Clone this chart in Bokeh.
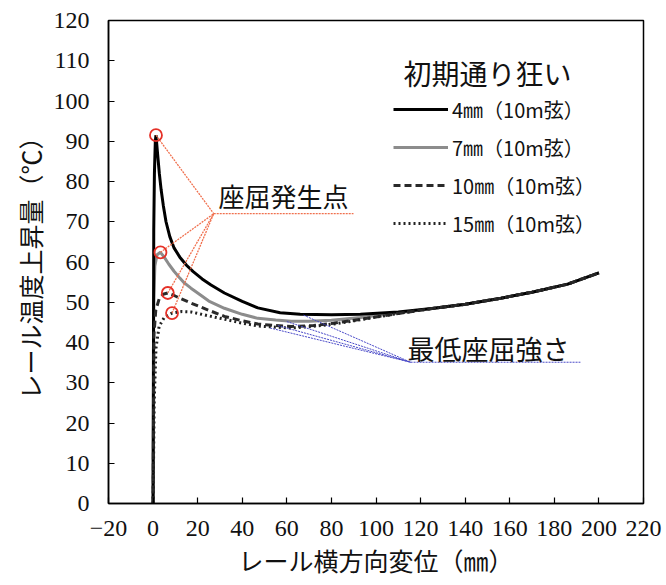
from bokeh.plotting import figure
from bokeh.models import Range1d, FixedTicker, Legend, LegendItem
from bokeh.core.properties import value
from bokeh.embed import file_html
from bokeh.resources import INLINE

# ---- data ----
x_ticks = [-20, 0, 20, 40, 60, 80, 100, 120, 140, 160, 180, 200, 220]
y_ticks = [0, 10, 20, 30, 40, 50, 60, 70, 80, 90, 100, 110, 120]

tail_x = [126, 140, 156, 170, 186, 200]
tail_y = [48.5, 49.5, 51.0, 52.5, 54.5, 57.3]

x_4mm = [0, 0.3, 0.6, 1.0, 1.3, 2.0, 2.8, 3.6, 4.6, 5.8, 7.5, 9.4, 12, 15, 18, 22, 26, 32, 40, 47, 57, 66, 80, 93, 110] + tail_x
y_4mm = [0, 68, 82, 90, 91.5, 87, 82, 78, 74, 70, 66.3, 63.5, 61.2, 59.2, 57.6, 55.8, 54.3, 52.3, 50.2, 48.6, 47.4, 47.0, 46.9, 47.0, 47.6] + tail_y

x_7mm = [0, 0.3, 0.8, 1.8, 3.3, 5, 7, 9.4, 12, 14, 17, 20, 25, 32, 40, 47, 55, 62, 70, 80, 93, 110] + tail_x
y_7mm = [0, 50, 59, 61.8, 62.4, 61.2, 59.5, 57.7, 56.0, 54.8, 53.5, 52.3, 50.3, 48.5, 47.0, 46.0, 45.6, 45.3, 45.3, 45.5, 46.2, 47.3] + tail_y

x_10mm = [0, 0.4, 1.2, 2.7, 4.5, 6.6, 9, 12, 17, 25, 32, 40, 47, 55, 62, 72, 81, 96, 110] + tail_x
y_10mm = [0, 42, 48, 50.8, 52.0, 52.3, 51.8, 51.0, 49.8, 48.0, 46.5, 45.4, 44.6, 44.2, 44.0, 44.2, 44.8, 46.0, 47.2] + tail_y

x_15mm = [0, 0.5, 1.3, 2.7, 5, 8.5, 13, 17, 25, 32, 40, 47, 55, 62, 72, 85, 100, 112] + tail_x
y_15mm = [0, 25, 38.6, 44.0, 46.2, 47.3, 47.7, 47.6, 46.6, 45.8, 44.8, 44.1, 43.8, 43.6, 44.0, 44.9, 46.3, 47.4] + tail_y

series_labels = ["4㎜（10m弦）", "7㎜（10m弦）", "10㎜（10m弦）", "15㎜（10m弦）"]

# buckling points (circled) and annotation anchor
buckle_x = [1.3, 3.3, 6.6, 8.5]
buckle_y = [91.5, 62.4, 52.3, 47.3]
buckle_hub = (27.2, 72.0)
buckle_line_end = 89.9
buckle_text = "座屈発生点"
buckle_text_pos = (29.3, 76.5)

# minimum buckling strength points and annotation anchor
min_x = [67.5, 60, 56, 52.5]
min_y = [46.8, 45.2, 44.2, 43.6]
min_hub = (115.5, 35.1)
min_line_end = 191.7
min_text = "最低座屈強さ"
min_text_pos = (114.1, 38.6)

legend_title = "初期通り狂い"
legend_title_pos = (112.3, 107.0)
x_label = "レール横方向変位（㎜）"
y_label = "レール温度上昇量（℃）"

JP = "Noto Sans CJK JP"
NUM = "Liberation Sans Narrow"

p = figure(frame_width=535, frame_height=483, output_backend="svg", toolbar_location=None,
           x_range=Range1d(-20, 220), y_range=Range1d(0, 120),
           min_border_left=108, min_border_right=20, min_border_top=20,
           min_border_bottom=40)
p.background_fill_color = "white"
p.border_fill_color = "white"
p.outline_line_color = "black"
p.outline_line_width = 1.5
p.grid.visible = False

for ax, ticks in ((p.xaxis[0], x_ticks), (p.yaxis[0], y_ticks)):
    ax.ticker = FixedTicker(ticks=ticks)
    ax.major_tick_in = 6
    ax.major_tick_out = 0
    ax.minor_tick_line_color = None
    ax.axis_line_width = 1.5
    ax.major_tick_line_width = 1.2
    ax.major_label_text_font = NUM
    ax.major_label_text_font_size = "24px"
    ax.major_label_text_color = "#111"
    ax.axis_label_text_font = JP
    ax.axis_label_text_font_size = "25px"
    ax.axis_label_text_font_style = "normal"
    ax.axis_label_text_color = "#111"

p.xaxis.axis_label = x_label
p.yaxis.axis_label = y_label
p.xaxis.major_label_standoff = 17
p.yaxis.major_label_standoff = 19
p.xaxis.axis_label_standoff = 3
p.yaxis.axis_label_standoff = 3

# curves
r7 = p.line(x_7mm, y_7mm, line_color="#8c8c8c", line_width=3)
r4 = p.line(x_4mm, y_4mm, line_color="black", line_width=3)
r10 = p.line(x_10mm, y_10mm, line_color="#2a2a2a", line_width=3, line_dash="7 4")
r15 = p.line(x_15mm, y_15mm, line_color="#222222", line_width=3, line_dash="2 3")

# buckling point leaders
orange = "#f0704e"
p.segment(x0=buckle_x, y0=buckle_y, x1=[buckle_hub[0]] * len(buckle_x),
          y1=[buckle_hub[1]] * len(buckle_y), line_color=orange, line_width=1.3, line_dash="2 1")
p.segment(x0=[buckle_hub[0]], y0=[buckle_hub[1]], x1=[buckle_line_end], y1=[buckle_hub[1]],
          line_color=orange, line_width=1.3, line_dash="2 1")
p.scatter(buckle_x, buckle_y, marker="circle", size=12, fill_alpha=0,
          line_color="#e53128", line_width=1.8)

# minimum strength leaders
blue = "#4848c8"
p.segment(x0=min_x, y0=min_y, x1=[min_hub[0]] * len(min_x), y1=[min_hub[1]] * len(min_y),
          line_color=blue, line_width=1, line_dash="2 1")
p.segment(x0=[min_hub[0]], y0=[min_hub[1]], x1=[min_line_end], y1=[min_hub[1]],
          line_color=blue, line_width=1, line_dash="2 1")

p.text(x=[buckle_text_pos[0]], y=[buckle_text_pos[1]], text=[buckle_text],
       text_font=value(JP), text_font_size="26px", text_align="left",
       text_baseline="middle", text_color="#111")
p.text(x=[min_text_pos[0]], y=[min_text_pos[1]], text=[min_text],
       text_font=value(JP), text_font_size="27px", text_align="left",
       text_baseline="middle", text_color="#111")
p.text(x=[legend_title_pos[0]], y=[legend_title_pos[1]], text=[legend_title],
       text_font=value(JP), text_font_size="28px", text_align="left",
       text_baseline="middle", text_color="#111")

legend = Legend(items=[LegendItem(label=series_labels[0], renderers=[r4]),
                       LegendItem(label=series_labels[1], renderers=[r7]),
                       LegendItem(label=series_labels[2], renderers=[r10]),
                       LegendItem(label=series_labels[3], renderers=[r15])],
                location=(285, 265),
                label_text_font=JP, label_text_font_size="20px", label_text_color="#111",
                glyph_width=55, glyph_height=30, label_height=30, label_standoff=4,
                spacing=8, padding=0, margin=0,
                border_line_alpha=0, background_fill_alpha=0)
p.add_layout(legend)

open("out.html", "w").write(file_html(p, INLINE))
